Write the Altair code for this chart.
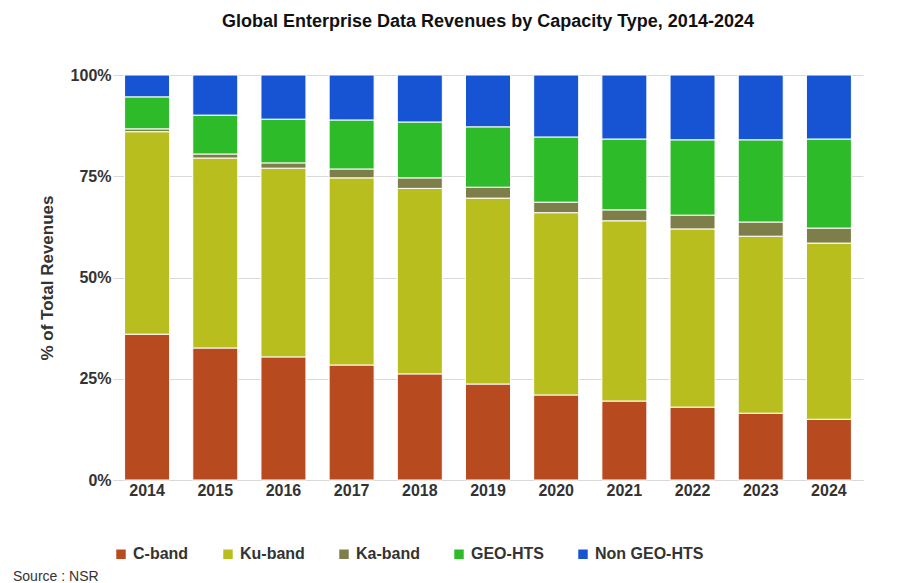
import altair as alt
import pandas as pd

years = [str(y) for y in range(2014, 2025)]
series = ["C-band", "Ku-band", "Ka-band", "GEO-HTS", "Non GEO-HTS"]
colors = ["#B84A1F", "#B8BE1E", "#7E7E4A", "#2DBB2A", "#1654D4"]

c_band = [36, 32.6, 30.4, 28.4, 26.2, 23.7, 21, 19.5, 18, 16.5, 15]
ku_band = [50, 46.9, 46.6, 46.2, 45.8, 45.9, 45, 44.5, 44, 43.7, 43.5]
ka_band = [0.7, 1, 1.3, 2.2, 2.6, 2.7, 2.6, 2.7, 3.4, 3.5, 3.7]
geo_hts = [7.9, 9.6, 10.8, 12.1, 13.8, 14.9, 16.1, 17.5, 18.6, 20.3, 22]
non_geo = [5.4, 9.9, 10.9, 11.1, 11.6, 12.8, 15.3, 15.8, 16, 16, 15.8]

rows = []
for name, vals in zip(series, [c_band, ku_band, ka_band, geo_hts, non_geo]):
    for y, v in zip(years, vals):
        rows.append({"year": y, "type": name, "share": v, "order": series.index(name)})
df = pd.DataFrame(rows)

font = "Liberation Sans"

bars = (
    alt.Chart(df)
    .mark_bar(size=45, stroke="white", strokeWidth=1)
    .encode(
        x=alt.X("year:N", title=None,
                axis=alt.Axis(labelAngle=0, labelFontSize=16, labelFontWeight="bold",
                              labelColor="#333", ticks=False, domainColor="#d9d9d9")),
        y=alt.Y("share:Q", stack="zero", title="% of Total Revenues",
                scale=alt.Scale(domain=[0, 100]),
                axis=alt.Axis(values=[0, 25, 50, 75, 100], labelExpr="datum.value + '%'",
                              labelFontSize=16, labelFontWeight="bold", labelColor="#333",
                              titleFontSize=17, titleFontWeight="bold", titleColor="#333",
                              titlePadding=14, ticks=False, domain=False,
                              gridColor="#d9d9d9")),
        color=alt.Color("type:N", scale=alt.Scale(domain=series, range=colors),
                        legend=alt.Legend(orient="bottom", title=None, symbolType="square",
                                          labelFontSize=16, labelFontWeight="bold",
                                          labelColor="#333", columnPadding=30,
                                          symbolSize=120, offset=48)),
        order=alt.Order("order:Q"),
    )
)

source = (
    alt.Chart(pd.DataFrame({"t": ["Source : NSR"]}))
    .mark_text(align="left", fontSize=14, font=font, color="#333")
    .encode(text="t:N", x=alt.value(-100), y=alt.value(502))
)

chart = (
    alt.layer(bars, source)
    .properties(
        width=750, height=405,
        title=alt.Title("Global Enterprise Data Revenues by Capacity Type, 2014-2024",
                        fontSize=18, font=font, fontWeight="bold", color="#111", offset=36),
    )
    .configure(font=font)
    .configure_view(stroke=None)
)

chart.save("out.html", embed_options={"renderer": "svg", "actions": False})
